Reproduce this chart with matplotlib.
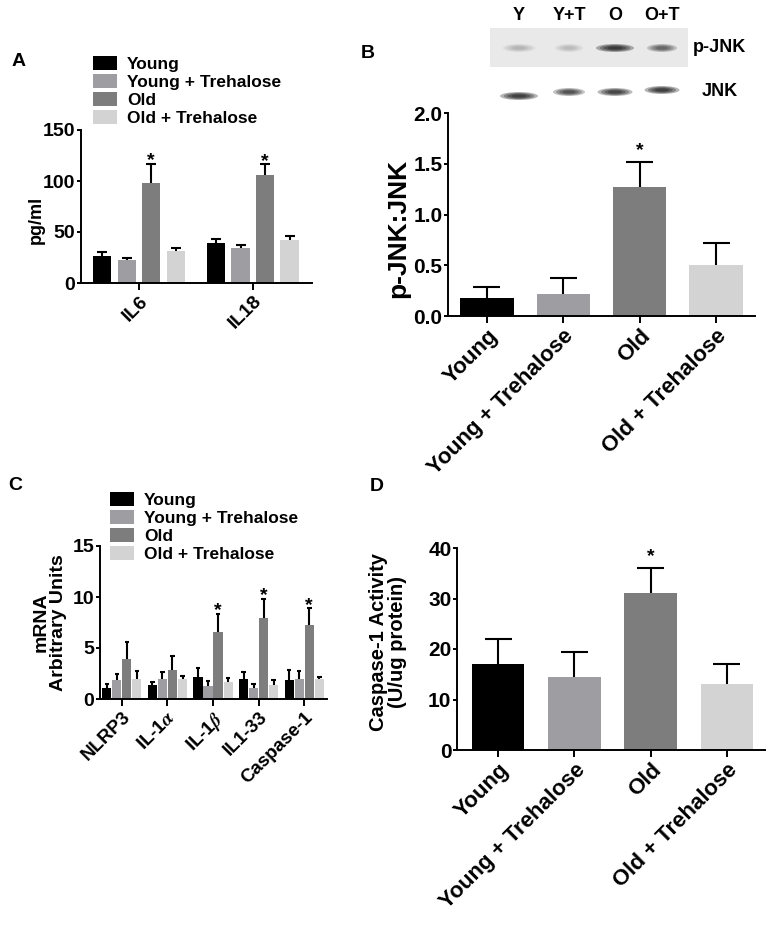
import numpy as np
import matplotlib
matplotlib.use('Agg')
import matplotlib.pyplot as plt
from matplotlib.patches import Patch, Rectangle, Ellipse

plt.rcParams['font.family'] = ['Liberation Sans', 'DejaVu Sans']
plt.rcParams['font.weight'] = 'bold'
plt.rcParams['mathtext.fontset'] = 'stix'

# groups / colours
series_names = ['Young', 'Young + Trehalose', 'Old', 'Old + Trehalose']
series_colors = ['#000000', '#9e9ea2', '#7d7d7d', '#d3d3d3']

# panel A - cytokines (pg/ml)
a_cats = ['IL6', 'IL18']
a_young = [26.7, 39.0]
a_young_err = [3.3, 4.0]
a_yt = [22.8, 34.2]
a_yt_err = [1.7, 3.3]
a_old = [97.8, 106.0]
a_old_err = [19.0, 10.4]
a_ot = [31.0, 41.7]
a_ot_err = [3.2, 4.6]

# panel B - p-JNK:JNK
b_vals = [0.18, 0.22, 1.27, 0.50]
b_err = [0.11, 0.15, 0.25, 0.22]

# panel C - mRNA
c_cats = ['NLRP3', 'IL-1$\\alpha$', 'IL-1$\\beta$', 'IL1-33', 'Caspase-1']
c_young = [1.08, 1.34, 2.15, 1.99, 1.83]
c_young_err = [0.4, 0.32, 0.88, 0.62, 0.97]
c_yt = [1.83, 1.96, 1.30, 1.08, 1.96]
c_yt_err = [0.65, 0.68, 0.43, 0.39, 0.81]
c_old = [3.95, 2.87, 6.52, 7.99, 7.27]
c_old_err = [1.59, 1.30, 1.83, 1.82, 1.63]
c_ot = [1.96, 1.96, 1.63, 1.40, 1.96]
c_ot_err = [0.81, 0.32, 0.42, 0.49, 0.19]

# panel D - caspase-1 activity
d_vals = [17.0, 14.4, 31.1, 13.0]
d_err = [4.9, 5.0, 4.9, 4.0]

# blot lanes
blot_lanes = ['Y', 'Y+T', 'O', 'O+T']
pjnk_strength = [0.2, 0.17, 0.95, 0.6]
jnk_strength = [0.9, 0.75, 0.85, 0.9]

W, H = 776, 925
fig = plt.figure(figsize=(W / 100, H / 100), dpi=100)


def frac(l, t, r, b):
    return [l / W, 1 - b / H, (r - l) / W, (b - t) / H]


def style_ax(ax, tick_fs):
    for s in ['top', 'right']:
        ax.spines[s].set_visible(False)
    for s in ['left', 'bottom']:
        ax.spines[s].set_linewidth(1.4)
    ax.tick_params(axis='y', width=1.4, length=3, labelsize=tick_fs, pad=1)
    ax.tick_params(axis='x', width=1.4, length=5, pad=2)


def bars_up_err(ax, pos, v, e, w, color, cap):
    pos = np.asarray(pos, dtype=float)
    top = np.asarray(v) + np.asarray(e)
    ax.bar(pos, v, w, color=color, zorder=2)
    ax.vlines(pos, v, top, color='black', lw=1.5, zorder=1)
    ax.hlines(top, pos - cap, pos + cap, color='black', lw=1.5, zorder=1)


def star(ax, x, y, off):
    ax.annotate('*', (x, y), xytext=(0, off), textcoords='offset points',
                ha='center', va='baseline', fontsize=14)


# ---------- A
axA = fig.add_axes(frac(81, 130, 312, 283))
xa = np.arange(len(a_cats))
a_series = [(a_young, a_young_err), (a_yt, a_yt_err), (a_old, a_old_err), (a_ot, a_ot_err)]
for i, (v, e) in enumerate(a_series):
    bars_up_err(axA, xa + (i - 1.5) * 0.215, v, e, 0.162, series_colors[i], 0.042)
for j in range(len(a_cats)):
    star(axA, xa[j] + 0.5 * 0.215, a_old[j] + a_old_err[j], -1)
axA.set_xlim(-0.509, 1.518)
axA.set_ylim(0, 150)
axA.set_yticks([0, 50, 100, 150])
axA.set_xticks(xa)
axA.set_xticklabels(a_cats, rotation=45, ha='right', va='top', rotation_mode='anchor', fontsize=14)
style_ax(axA, 14)
axA.text(-0.195, 0.41, 'pg/ml', transform=axA.transAxes, rotation=90,
         ha='center', va='center', fontsize=13)

# ---------- B
axB = fig.add_axes(frac(448, 113, 755, 316))
xb = np.arange(4)
bars_up_err(axB, xb, b_vals, b_err, 0.7, series_colors, 0.177)
star(axB, xb[2], b_vals[2] + b_err[2], 5)
axB.set_xlim(-0.51, 3.51)
axB.set_ylim(0, 2.0)
axB.set_yticks([0, 0.5, 1.0, 1.5, 2.0])
axB.set_yticklabels(['0.0', '0.5', '1.0', '1.5', '2.0'])
axB.set_xticks(xb)
axB.set_xticklabels(series_names, rotation=45, ha='right', va='top', rotation_mode='anchor', fontsize=16)
style_ax(axB, 15)
axB.text(-0.163, 0.433, 'p-JNK:JNK', transform=axB.transAxes, rotation=90,
         ha='center', va='center', fontsize=19)

# blot picture above B
axBlot = fig.add_axes(frac(480, 0, 776, 110))
axBlot.set_xlim(480, 776)
axBlot.set_ylim(110, 0)
axBlot.axis('off')
axBlot.add_patch(Rectangle((490, 28), 198, 39, facecolor='#e9e9e9', edgecolor='none'))
lane_x = [519, 569, 615, 662]
pjnk_w = [32, 28, 38, 30]
jnk_w = [38, 32, 35, 35]
jnk_y = [96, 92, 92, 90]
for k, lx in enumerate(lane_x):
    for layer in range(4):
        f = 1 - 0.2 * layer
        axBlot.add_patch(Ellipse((lx, 48), pjnk_w[k] * f, 8 * f, facecolor='black',
                                 edgecolor='none', alpha=pjnk_strength[k] * 0.3))
        axBlot.add_patch(Ellipse((lx, jnk_y[k]), jnk_w[k] * f, 8 * f, facecolor='black',
                                 edgecolor='none', alpha=jnk_strength[k] * 0.32))
    axBlot.text(lx, 15, blot_lanes[k], ha='center', va='center', fontsize=13)
axBlot.text(693, 48, 'p-JNK', ha='left', va='center', fontsize=13)
axBlot.text(702, 91, 'JNK', ha='left', va='center', fontsize=13)

# ---------- C
axC = fig.add_axes(frac(100, 546, 327, 699))
xc = np.arange(len(c_cats))
c_series = [(c_young, c_young_err), (c_yt, c_yt_err), (c_old, c_old_err), (c_ot, c_ot_err)]
for i, (v, e) in enumerate(c_series):
    bars_up_err(axC, xc + (i - 1.5) * 0.22, v, e, 0.2, series_colors[i], 0.05)
for j in [2, 3, 4]:
    star(axC, xc[j] + 0.5 * 0.22, c_old[j] + c_old_err[j], -1)
axC.set_xlim(-0.48, 4.5)
axC.set_ylim(0, 15)
axC.set_yticks([0, 5, 10, 15])
axC.set_xticks(xc)
axC.set_xticklabels(c_cats, rotation=45, ha='right', va='top', rotation_mode='anchor', fontsize=13.5)
style_ax(axC, 14)
axC.text(-0.22, 0.5, 'mRNA\nArbitrary Units', transform=axC.transAxes, rotation=90,
         ha='center', va='center', fontsize=14, linespacing=1.0)

# ---------- D
axD = fig.add_axes(frac(457, 548, 765, 750))
xd = np.arange(4)
bars_up_err(axD, xd, d_vals, d_err, 0.69, series_colors, 0.177)
star(axD, xd[2], d_vals[2] + d_err[2], 5)
axD.set_xlim(-0.54, 3.5)
axD.set_ylim(0, 40)
axD.set_yticks([0, 10, 20, 30, 40])
axD.set_xticks(xd)
axD.set_xticklabels(series_names, rotation=45, ha='right', va='top', rotation_mode='anchor', fontsize=16)
style_ax(axD, 15)
axD.text(-0.225, 0.535, 'Caspase-1 Activity\n(U/ug protein)', transform=axD.transAxes, rotation=90,
         ha='center', va='center', fontsize=14.5, linespacing=1.0)

# legends
handles = [Patch(facecolor=c, edgecolor='none') for c in series_colors]
for lx, ty in [(93, 56), (110, 492)]:
    fig.legend(handles, series_names, loc='upper left', bbox_to_anchor=(lx / W, 1 - ty / H),
               frameon=False, fontsize=12.5, handlelength=1.4, handleheight=0.9,
               handletextpad=0.55, labelspacing=0.1, borderpad=0, borderaxespad=0)

# panel letters
for letter, px, py in [('A', 19, 61), ('B', 368, 54), ('C', 15, 486), ('D', 377, 487)]:
    fig.text(px / W, 1 - py / H, letter, ha='center', va='center', fontsize=14)

fig.savefig('out.png', dpi=100)
